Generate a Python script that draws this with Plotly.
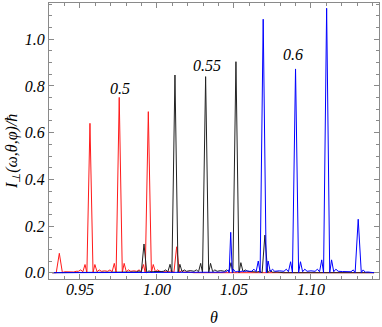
import plotly.graph_objects as go

# red curve (0.5)
theta_red = [0.9320, 0.9346, 0.9366, 0.9386, 0.9400, 0.9420, 0.9440, 0.9460, 0.9475,
             0.9490, 0.9505, 0.9519, 0.9533, 0.9545, 0.9565, 0.9585, 0.9597, 0.9611, 0.9625, 0.9640,
             0.9660,
             0.9680, 0.9695, 0.9709, 0.9723, 0.9735, 0.9755, 0.9775, 0.9787, 0.9801, 0.9815, 0.9830,
             0.9850,
             0.9869, 0.9884, 0.9898, 0.9912, 0.9924, 0.9944, 0.9964, 0.9976, 0.9990, 1.0004, 1.0019,
             1.0040, 1.0060, 1.0080,
             1.0096, 1.0110, 1.0128, 1.0146, 1.0160, 1.0175, 1.0200, 1.0240, 1.1410]
I_red = [0.0, 0.0, 0.083, 0.0, 0.004, 0.003, 0.004, 0.003, 0.006,
         0.006, 0.012, 0.004, 0.035, 0.0, 0.640, 0.0, 0.035, 0.004, 0.012, 0.006,
         0.008,
         0.006, 0.012, 0.004, 0.040, 0.0, 0.751, 0.0, 0.040, 0.004, 0.012, 0.006,
         0.008,
         0.006, 0.012, 0.004, 0.035, 0.0, 0.690, 0.0, 0.035, 0.004, 0.012, 0.006,
         0.004, 0.005, 0.004,
         0.010, 0.0, 0.111, 0.0, 0.010, 0.002, 0.003, 0.0, 0.0]

# black curve (0.55)
theta_black = [0.9320, 0.9820, 0.9850, 0.9870,
               0.9884, 0.9898, 0.9916, 0.9934, 0.9948, 0.9962, 0.9978, 0.9995, 1.0012, 1.0027,
               1.0042, 1.0057, 1.0071, 1.0085, 1.0097, 1.0117, 1.0137, 1.0149, 1.0163, 1.0177, 1.0192,
               1.0216,
               1.0241, 1.0256, 1.0270, 1.0284, 1.0296, 1.0316, 1.0336, 1.0348, 1.0362, 1.0376, 1.0391,
               1.0414,
               1.0438, 1.0453, 1.0467, 1.0481, 1.0493, 1.0513, 1.0533, 1.0545, 1.0559, 1.0573, 1.0588,
               1.0610, 1.0630, 1.0650, 1.0668,
               1.0683, 1.0701, 1.0719, 1.0733, 1.0750, 1.0780, 1.0820, 1.1410]
I_black = [0.0, 0.0, 0.002, 0.003,
           0.008, 0.0, 0.123, 0.0, 0.008, 0.003, 0.005, 0.004, 0.006, 0.005,
           0.006, 0.012, 0.004, 0.036, 0.0, 0.847, 0.0, 0.036, 0.004, 0.012, 0.006,
           0.009,
           0.006, 0.012, 0.004, 0.040, 0.0, 0.840, 0.0, 0.040, 0.004, 0.012, 0.006,
           0.009,
           0.006, 0.012, 0.004, 0.043, 0.0, 0.904, 0.0, 0.043, 0.004, 0.012, 0.006,
           0.004, 0.005, 0.003, 0.006,
           0.0, 0.161, 0.0, 0.010, 0.002, 0.003, 0.0, 0.0]

# blue curve (0.6)
theta_blue = [0.9320, 1.0380, 1.0410, 1.0430, 1.0450,
              1.0462, 1.0469, 1.0479, 1.0489, 1.0496, 1.0510, 1.0525, 1.0540, 1.0555, 1.0570, 1.0585, 1.0600,
              1.0615, 1.0630, 1.0644, 1.0658, 1.0670, 1.0690, 1.0710, 1.0722, 1.0736, 1.0750, 1.0765,
              1.0795,
              1.0825, 1.0840, 1.0854, 1.0868, 1.0880, 1.0900, 1.0920, 1.0932, 1.0946, 1.0960, 1.0975,
              1.1000,
              1.1027, 1.1042, 1.1056, 1.1070, 1.1082, 1.1102, 1.1122, 1.1134, 1.1148, 1.1162, 1.1177,
              1.1205,
              1.1240, 1.1260, 1.1275, 1.1287, 1.1307, 1.1327, 1.1339, 1.1353, 1.1370, 1.1390, 1.1410]
I_blue = [0.0, 0.0, 0.003, 0.002, 0.004,
          0.012, 0.0, 0.173, 0.0, 0.015, 0.003, 0.006, 0.004, 0.007, 0.005, 0.008, 0.006,
          0.006, 0.015, 0.004, 0.050, 0.0, 1.086, 0.0, 0.050, 0.004, 0.015, 0.006,
          0.008,
          0.006, 0.015, 0.004, 0.047, 0.0, 0.873, 0.0, 0.047, 0.004, 0.015, 0.006,
          0.008,
          0.006, 0.015, 0.004, 0.055, 0.0, 1.133, 0.0, 0.055, 0.004, 0.015, 0.006,
          0.005,
          0.003, 0.004, 0.012, 0.0, 0.229, 0.0, 0.012, 0.002, 0.003, 0.0, 0.0]

labels = ["0.5", "0.55", "0.6"]
label_theta = [0.976, 1.0328, 1.0883]
label_I = [0.791, 0.886, 0.933]

serif = "Times New Roman, Liberation Serif, serif"
frame = "#8a8a8a"
ital = dict(family=serif, size=16, color="black", style="italic")

fig = go.Figure()
fig.add_trace(go.Scatter(x=theta_red, y=I_red, mode="lines",
                         line=dict(color="#ff1a1a", width=1)))
fig.add_trace(go.Scatter(x=theta_black, y=I_black, mode="lines",
                         line=dict(color="#222222", width=1)))
fig.add_trace(go.Scatter(x=theta_blue, y=I_blue, mode="lines",
                         line=dict(color="#0000ff", width=1)))

for txt, tx, ty in zip(labels, label_theta, label_I):
    fig.add_annotation(x=tx, y=ty, text="<i>" + txt + "</i>", showarrow=False, font=ital)

# axis titles
fig.add_annotation(xref="paper", yref="paper", x=0.5, y=-0.141, text="<i>θ</i>",
                   showarrow=False, yanchor="middle", font=ital)
fig.add_annotation(xref="paper", yref="paper", x=-0.112, y=0.46,
                   text="<i>I<sub>⊥</sub>(ω,θ,φ)/ħ</i>", textangle=-90,
                   showarrow=False, xanchor="center", yanchor="middle", font=ital)

fig.update_layout(
    width=382, height=327,
    margin=dict(l=49, r=3, t=3, b=48),
    paper_bgcolor="white", plot_bgcolor="white",
    showlegend=False,
)
fig.update_xaxes(
    range=[0.9299, 1.1442], tickvals=[0.95, 1.00, 1.05, 1.10],
    ticktext=["<i>0.95</i>", "<i>1.00</i>", "<i>1.05</i>", "<i>1.10</i>"],
    ticks="inside", ticklen=5, tickcolor=frame, ticklabelstandoff=-4,
    minor=dict(dtick=0.01, tick0=0.95, ticks="inside", ticklen=3, tickcolor=frame),
    showline=True, linecolor=frame, linewidth=1, mirror="allticks",
    showgrid=False, zeroline=False, automargin=False,
    tickfont=ital,
)
fig.update_yaxes(
    range=[-0.027, 1.1555], tickvals=[0.0, 0.2, 0.4, 0.6, 0.8, 1.0],
    ticktext=["<i>0.0</i>", "<i>0.2</i>", "<i>0.4</i>", "<i>0.6</i>", "<i>0.8</i>", "<i>1.0</i>"],
    ticks="inside", ticklen=5, tickcolor=frame,
    minor=dict(dtick=0.05, tick0=0, ticks="inside", ticklen=3, tickcolor=frame),
    showline=True, linecolor=frame, linewidth=1, mirror="allticks",
    showgrid=False, zeroline=False, automargin=False,
    tickfont=ital,
)

fig.write_html("out.html", config={"displayModeBar": False},
               post_script="document.body.style.margin='0';")
